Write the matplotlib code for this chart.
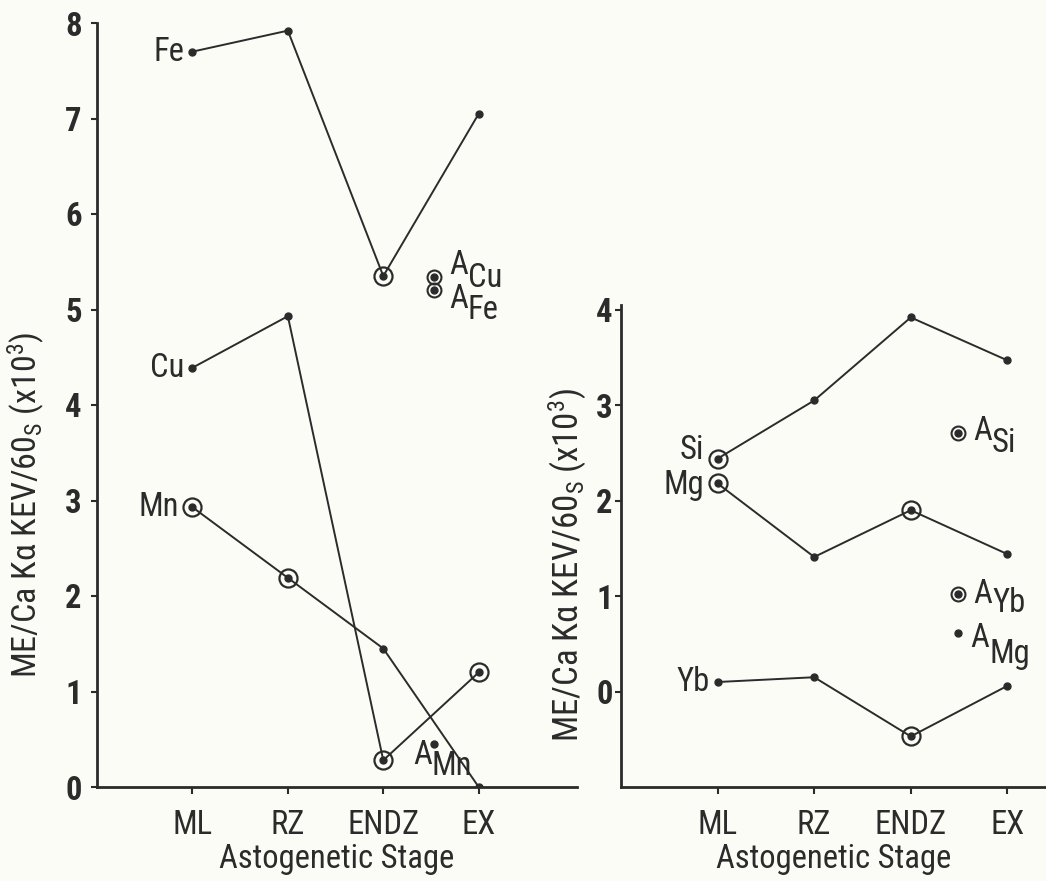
import matplotlib.pyplot as plt
from matplotlib import font_manager

stages = ['ML', 'RZ', 'ENDZ', 'EX']
pos = [1, 2, 3, 4]

# left panel: Fe, Cu, Mn
fe = [7.70, 7.92, 5.35, 7.05]
cu = [4.39, 4.93, 0.28, 1.20]
mn = [2.93, 2.19, 1.45, 0.00]
fe_rings = [2]
cu_rings = [2, 3]
mn_rings = [0, 1]
a_left_x = 3.53
a_cu, a_fe, a_mn = 5.34, 5.20, 0.45

# right panel: Si, Mg, Yb
si = [2.44, 3.05, 3.92, 3.47]
mg = [2.18, 1.41, 1.90, 1.44]
yb = [0.10, 0.15, -0.47, 0.06]
si_rings = [0]
mg_rings = [0, 2]
yb_rings = [2]
a_right_x = 3.49
a_si, a_yb, a_mg = 2.71, 1.02, 0.61

# the lettering in the original is a condensed grotesque
have = {f.name for f in font_manager.fontManager.ttflist}
family = 'DejaVu Sans'
fs = 18
for cand in ['Roboto Condensed', 'PT Sans Narrow', 'Archivo Narrow', 'Liberation Sans Narrow',
             'IBM Plex Sans Condensed', 'Fira Sans Condensed', 'Encode Sans Condensed']:
    if cand in have:
        family = cand
        fs = 23.5
        break

plt.rcParams['font.family'] = [family, 'DejaVu Sans']
plt.rcParams['mathtext.fontset'] = 'custom'
plt.rcParams['mathtext.rm'] = family
plt.rcParams['mathtext.it'] = family
plt.rcParams['mathtext.bf'] = family + ':bold'

ink = '#2b2b2b'
bg = '#fcfcf7'
ylab = r'ME/Ca K$\alpha$ KEV/60$_{\mathrm{S}}$ (x10$^{3}$)'

fig = plt.figure(figsize=(10.46, 8.81), dpi=100, facecolor=bg)
ax1 = fig.add_axes([97/1046, 1 - 787/881, 480/1046, 764/881])
ax2 = fig.add_axes([621/1046, 1 - 787/881, 425/1046, 482/881])


def draw_series(ax, ys, rings, name, dy=0):
    ax.plot(pos, ys, color=ink, lw=1.4, marker='o', ms=5, zorder=3)
    ax.plot([pos[i] for i in rings], [ys[i] for i in rings], ls='none',
            marker='o', ms=13, mfc='none', mec=ink, mew=1.6, zorder=4)
    gap = 13 if 0 in rings else 8
    ax.annotate(name, (pos[0], ys[0]), xytext=(-gap * 0.72, dy * 0.72), textcoords='offset points',
                ha='right', va='center', fontsize=fs, color=ink)


def a_point(ax, xv, yv, sub, ring, a_off, s_dy):
    ax.plot([xv], [yv], ls='none', marker='o', ms=5, color=ink, zorder=3)
    if ring:
        ax.plot([xv], [yv], ls='none', marker='o', ms=10, mfc='none', mec=ink, mew=1.5)
    # offsets given in pixels, turned into points
    ax.annotate('A', (xv, yv), xytext=(a_off[0] * 0.72, -a_off[1] * 0.72),
                textcoords='offset points', ha='left', va='center', fontsize=fs, color=ink)
    ax.annotate(sub, (xv, yv), xytext=((a_off[0] + 19) * 0.72, -s_dy * 0.72),
                textcoords='offset points', ha='left', va='center', fontsize=fs, color=ink)


def style(ax, ypad):
    ax.set_facecolor(bg)
    for s in ['top', 'right']:
        ax.spines[s].set_visible(False)
    for s in ['left', 'bottom']:
        ax.spines[s].set_linewidth(2)
        ax.spines[s].set_color(ink)
    ax.set_xticks(pos)
    ax.set_xticklabels(stages, fontsize=fs, color=ink)
    ax.tick_params(axis='x', length=5, width=1.5, pad=11, color=ink)
    ax.tick_params(axis='y', length=4, width=1.5, pad=ypad, color=ink)
    for t in ax.get_yticklabels():
        t.set_fontsize(fs)
        t.set_fontweight('bold')
        t.set_color(ink)
    ax.set_xlabel('Astogenetic Stage', fontsize=fs, color=ink, labelpad=1)


# left panel
ax1.set_xlim(0, 5.03)
ax1.set_ylim(0, 8)
ax1.set_yticks(range(0, 9))
draw_series(ax1, fe, fe_rings, 'Fe')
draw_series(ax1, cu, cu_rings, 'Cu')
draw_series(ax1, mn, mn_rings, 'Mn')
a_point(ax1, a_left_x, a_cu, 'Cu', True, (15, -12), 1)
a_point(ax1, a_left_x, a_fe, 'Fe', True, (15, 9), 20)
a_point(ax1, a_left_x, a_mn, 'Mn', False, (-21, 11), 22)
style(ax1, 7)
ax1.text(-0.148, 0.369, ylab, transform=ax1.transAxes, rotation=90,
         ha='center', va='center', fontsize=fs + 1, color=ink)

# right panel
ax2.set_xlim(0, 4.40)
ax2.set_ylim(-1, 4.05)
ax2.set_yticks(range(0, 5))
draw_series(ax2, si, si_rings, 'Si', dy=9)
draw_series(ax2, mg, mg_rings, 'Mg', dy=-2)
draw_series(ax2, yb, yb_rings, 'Yb')
a_point(ax2, a_right_x, a_si, 'Si', True, (15, -2), 10)
a_point(ax2, a_right_x, a_yb, 'Yb', True, (15, 0), 9)
a_point(ax2, a_right_x, a_mg, 'Mg', False, (12, 5), 21)
style(ax2, 2)
ax2.text(-0.125, 0.46, ylab, transform=ax2.transAxes, rotation=90,
         ha='center', va='center', fontsize=fs + 1.5, color=ink)

fig.savefig('out.png', dpi=100, facecolor=bg)
